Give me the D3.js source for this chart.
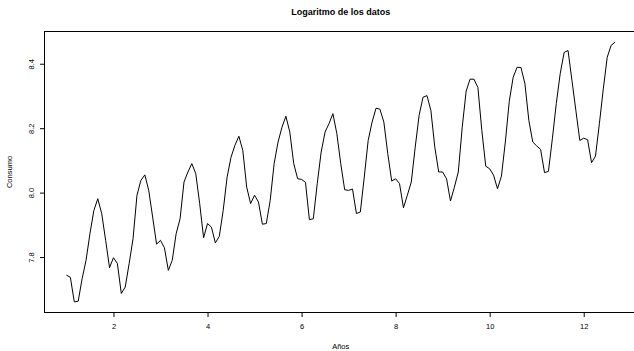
<!DOCTYPE html>
<html lang="es">
<head>
<meta charset="utf-8">
<style type="text/css">
    body { margin: 0; background: #fff; }
    svg { display: block; font-family: "Liberation Sans", Arial, sans-serif; }
    .eje text { font-size: 7.5px; fill: #000; }
    .eje line { stroke: #000; }
</style>
</head>
<body>
<svg width="634" height="351"></svg>

<script src="https://d3js.org/d3.v7.min.js"></script>
<script type="text/javascript">

    // serie mensual (log del consumo), empieza en 1, frecuencia 12
    var inicio = 1, frecuencia = 12;
    var logConsumo = [
        7.744, 7.737, 7.661, 7.663, 7.733, 7.790, 7.873, 7.945, 7.981, 7.935, 7.852, 7.767,
        7.798, 7.780, 7.687, 7.707, 7.780, 7.857, 7.992, 8.038, 8.055, 8.007, 7.924, 7.840,
        7.852, 7.829, 7.759, 7.790, 7.873, 7.919, 8.033, 8.064, 8.090, 8.059, 7.966, 7.860,
        7.904, 7.893, 7.844, 7.864, 7.945, 8.048, 8.110, 8.147, 8.175, 8.131, 8.017, 7.966,
        7.992, 7.971, 7.902, 7.904, 7.976, 8.090, 8.157, 8.203, 8.237, 8.188, 8.090, 8.043,
        8.041, 8.032, 7.916, 7.919, 8.028, 8.126, 8.188, 8.214, 8.245, 8.183, 8.090, 8.009,
        8.007, 8.011, 7.935, 7.940, 8.048, 8.162, 8.219, 8.262, 8.259, 8.219, 8.121, 8.036,
        8.043, 8.028, 7.953, 7.992, 8.033, 8.141, 8.240, 8.296, 8.301, 8.255, 8.141, 8.064,
        8.064, 8.043, 7.974, 8.017, 8.064, 8.203, 8.315, 8.352, 8.352, 8.326, 8.193, 8.082,
        8.074, 8.054, 8.012, 8.051, 8.157, 8.283, 8.358, 8.389, 8.388, 8.338, 8.224, 8.157,
        8.145, 8.134, 8.062, 8.066, 8.167, 8.276, 8.369, 8.435, 8.441, 8.348, 8.255, 8.162,
        8.169, 8.164, 8.093, 8.113, 8.214, 8.322, 8.420, 8.457, 8.467
    ];
    var ticksX = [2, 4, 6, 8, 10, 12];
    var ticksY = [7.8, 8.0, 8.2, 8.4];

    var titulo = "Logaritmo de los datos",
        etiquetaX = "Años",
        etiquetaY = "Consumo";

    var svg = d3.select("svg");

    // zona del grafico (a la R: rango de datos + 4%)
    var izq = 44.5, arriba = 31.5, abajo = 312.5, der = 637;

    var datos = logConsumo.map(function (v, i) {
        return { t: inicio + i / frecuencia, v: v };
    });

    var tMin = d3.min(datos, function (d) { return d.t; }),
        tMax = d3.max(datos, function (d) { return d.t; }),
        dt = (tMax - tMin) * 0.04;

    var x = d3.scaleLinear()
        .domain([tMin - dt, tMax + dt])
        .range([izq, der]);

    var y = d3.scaleLinear()
        .domain([7.628, 8.500])
        .range([abajo, arriba]);

    // linea
    var linea = d3.line()
        .x(function (d) { return x(d.t); })
        .y(function (d) { return y(d.v); });

    svg.append("path")
        .datum(datos)
        .attr("d", linea)
        .attr("fill", "none")
        .attr("stroke", "#000")
        .attr("stroke-width", 1)
        .attr("stroke-linejoin", "round");

    // caja
    svg.append("rect")
        .attr("x", izq)
        .attr("y", arriba)
        .attr("width", der - izq)
        .attr("height", abajo - arriba)
        .attr("fill", "none")
        .attr("stroke", "#000")
        .attr("stroke-width", 1);

    // eje x
    var ejeX = svg.append("g")
        .attr("class", "eje")
        .attr("transform", "translate(0," + abajo + ")")
        .call(d3.axisBottom(x).tickValues(ticksX).tickSize(4.5).tickPadding(7)
            .tickFormat(d3.format("d")));
    ejeX.select(".domain").remove();

    // eje y (etiquetas giradas como en R)
    var ejeY = svg.append("g")
        .attr("class", "eje")
        .attr("transform", "translate(" + izq + ",0)")
        .call(d3.axisLeft(y).tickValues(ticksY).tickSize(4.5)
            .tickFormat(d3.format(".1f")));
    ejeY.select(".domain").remove();
    ejeY.selectAll(".tick text")
        .attr("x", null)
        .attr("dy", null)
        .attr("text-anchor", "middle")
        .attr("transform", "translate(-13.5,0) rotate(-90)")
        .attr("dominant-baseline", "central");

    // textos
    svg.append("text")
        .attr("x", (izq + der) / 2)
        .attr("y", 15)
        .attr("text-anchor", "middle")
        .style("font-size", "9px")
        .style("font-weight", "bold")
        .text(titulo);

    svg.append("text")
        .attr("x", (izq + der) / 2)
        .attr("y", 349)
        .attr("text-anchor", "middle")
        .style("font-size", "7.5px")
        .text(etiquetaX);

    svg.append("text")
        .attr("transform", "translate(12," + ((arriba + abajo) / 2) + ") rotate(-90)")
        .attr("text-anchor", "middle")
        .style("font-size", "7.5px")
        .text(etiquetaY);

</script>
</body>
</html>
